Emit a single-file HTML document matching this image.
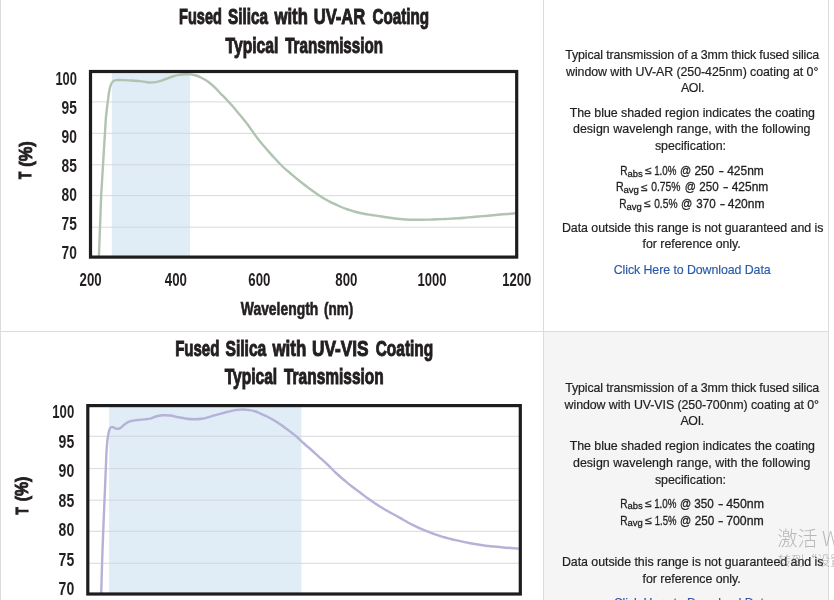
<!DOCTYPE html>
<html lang="en">
<head>
<meta charset="utf-8">
<title>Fused Silica Coating Transmission</title>
<style>
html,body{margin:0;padding:0;background:#fff;}
body{width:834px;height:600px;overflow:hidden;position:relative;font-family:"Liberation Sans","Noto Sans CJK SC",sans-serif;}
.ln{position:absolute;background:#dcdcdc;}
.cellbg{position:absolute;left:544px;top:332px;width:284px;height:268px;background:#f5f5f5;}
svg.ch{position:absolute;left:0;top:0;}
svg.ch text{font-family:"Liberation Sans",sans-serif;font-weight:bold;fill:#231f20;}
svg.ch text.r{font-weight:normal;fill:#1f1f1f;stroke:#1f1f1f;stroke-width:0.3px;}
.t{position:absolute;white-space:nowrap;font-size:12.4px;line-height:16px;height:16px;color:#1f1f1f;-webkit-text-stroke:0.2px #1f1f1f;}
.t sub{font-size:9.5px;vertical-align:baseline;position:relative;top:2.5px;line-height:0;}
.t a{color:#2a5aa8;text-decoration:none;-webkit-text-stroke:0.15px #2a5aa8;}
.wm{position:absolute;white-space:nowrap;color:rgba(110,110,110,0.45);font-family:"Noto Sans CJK SC","Liberation Sans",sans-serif;font-weight:300;}
</style>
</head>
<body>
<div class="cellbg"></div>
<div class="ln" style="left:0;top:0;width:1px;height:600px;"></div>
<div class="ln" style="left:543px;top:0;width:1px;height:600px;"></div>
<div class="ln" style="left:828px;top:0;width:1px;height:600px;"></div>
<div class="ln" style="left:0;top:331px;width:829px;height:1px;"></div>
<svg class="ch" width="834" height="600" viewBox="0 0 834 600">
<g id="c1">
<rect x="111.8" y="71.5" width="78.3" height="185.6" fill="#e0ecf6"/>
<g stroke="#d4d5d8" stroke-width="0.9">
<line x1="90.5" x2="516.7" y1="101.9" y2="101.9"/>
<line x1="90.5" x2="516.7" y1="133.3" y2="133.3"/>
<line x1="90.5" x2="516.7" y1="164.8" y2="164.8"/>
<line x1="90.5" x2="516.7" y1="195.6" y2="195.6"/>
<line x1="90.5" x2="516.7" y1="227.2" y2="227.2"/>
</g>
<path fill="none" stroke="#b1c3b1" stroke-width="2.4" stroke-linecap="butt" stroke-linejoin="round" d="M98.9,257.0 C99.1,252.1 99.6,237.8 100.0,227.5 C100.4,217.2 100.8,205.4 101.2,195.0 C101.8,184.6 102.4,175.4 103.0,165.0 C103.6,154.6 104.5,140.3 105.0,132.5 C105.5,124.7 105.5,122.9 105.9,118.0 C106.3,113.1 107.0,107.5 107.6,103.0 C108.2,98.5 108.7,94.3 109.2,91.3 C109.8,88.2 110.3,86.4 110.9,84.7 C111.5,83.0 112.1,82.1 113.0,81.3 C113.9,80.5 114.6,80.3 116.3,80.1 C118.0,79.9 120.5,80.0 123.0,80.1 C125.5,80.2 128.5,80.3 131.3,80.5 C134.1,80.7 137.4,80.8 140.0,81.1 C142.6,81.4 144.7,82.0 146.9,82.2 C149.1,82.4 151.0,82.5 153.0,82.4 C155.0,82.3 156.8,82.0 159.0,81.4 C161.2,80.8 163.6,79.8 165.9,79.0 C168.2,78.2 170.6,77.2 172.8,76.5 C175.0,75.8 176.7,75.3 178.9,74.9 C181.1,74.5 184.0,74.3 186.0,74.2 C188.0,74.2 189.3,74.2 191.0,74.4 C192.7,74.6 194.3,75.0 196.0,75.5 C197.7,76.0 199.3,76.7 201.0,77.5 C202.7,78.3 204.3,79.2 206.0,80.2 C207.7,81.3 209.3,82.6 211.0,84.0 C212.7,85.4 214.3,86.9 216.0,88.6 C217.7,90.3 219.7,92.6 221.0,94.0 C222.3,95.4 222.2,94.9 224.0,96.8 C225.8,98.7 229.3,102.5 232.0,105.5 C234.7,108.5 237.3,111.8 240.0,115.0 C242.7,118.2 245.7,121.9 248.0,125.0 C250.3,128.1 252.3,131.2 254.0,133.5 C255.7,135.8 256.0,136.5 258.0,139.0 C260.0,141.5 263.3,145.4 266.0,148.5 C268.7,151.6 271.3,154.6 274.0,157.5 C276.7,160.4 279.3,163.4 282.0,166.0 C284.7,168.6 287.3,170.7 290.0,173.0 C292.7,175.3 295.0,177.4 298.0,179.8 C301.0,182.2 305.0,185.3 308.0,187.5 C311.0,189.7 313.3,191.4 316.0,193.2 C318.7,195.0 321.3,196.9 324.0,198.5 C326.7,200.1 329.3,201.5 332.0,202.8 C334.7,204.1 337.3,205.4 340.0,206.5 C342.7,207.6 345.3,208.6 348.0,209.5 C350.7,210.4 353.3,211.3 356.0,212.0 C358.7,212.7 361.3,213.3 364.0,213.8 C366.7,214.3 369.3,214.6 372.0,215.0 C374.7,215.4 377.0,215.7 380.0,216.2 C383.0,216.7 386.7,217.3 390.0,217.8 C393.3,218.3 396.7,218.7 400.0,219.0 C403.3,219.3 406.7,219.6 410.0,219.7 C413.3,219.8 416.7,219.8 420.0,219.8 C423.3,219.8 426.3,219.7 430.0,219.6 C433.7,219.5 439.0,219.2 442.0,219.1 C445.0,219.0 445.3,219.0 448.0,218.9 C450.7,218.8 454.7,218.6 458.0,218.3 C461.3,218.1 464.7,217.7 468.0,217.4 C471.3,217.1 474.7,216.8 478.0,216.5 C481.3,216.2 484.7,216.0 488.0,215.7 C491.3,215.4 494.7,215.1 498.0,214.8 C501.3,214.5 505.1,214.2 508.0,214.0 C510.9,213.8 514.2,213.4 515.5,213.3"/>
<rect x="90.5" y="71.5" width="426.2" height="185.6" fill="none" stroke="#1d1d1d" stroke-width="3.2"/>
</g>
<text x="179.1" y="24.2" font-size="21.5" textLength="42.8" lengthAdjust="spacingAndGlyphs" stroke="#231f20" stroke-width="1">Fused</text>
<text x="228.1" y="24.2" font-size="21.5" textLength="39.9" lengthAdjust="spacingAndGlyphs" stroke="#231f20" stroke-width="1">Silica</text>
<text x="274.6" y="24.2" font-size="21.5" textLength="33.2" lengthAdjust="spacingAndGlyphs" stroke="#231f20" stroke-width="1">with</text>
<text x="313.7" y="24.2" font-size="21.5" textLength="51.6" lengthAdjust="spacingAndGlyphs" stroke="#231f20" stroke-width="1">UV-AR</text>
<text x="372.4" y="24.2" font-size="21.5" textLength="56.7" lengthAdjust="spacingAndGlyphs" stroke="#231f20" stroke-width="1">Coating</text>
<text x="225.6" y="52.5" font-size="21.5" textLength="52.8" lengthAdjust="spacingAndGlyphs" stroke="#231f20" stroke-width="1">Typical</text>
<text x="285.2" y="52.5" font-size="21.5" textLength="97.8" lengthAdjust="spacingAndGlyphs" stroke="#231f20" stroke-width="1">Transmission</text>
<text x="55.4" y="84.6" font-size="18" textLength="21.5" lengthAdjust="spacingAndGlyphs">100</text>
<text x="61.6" y="113.6" font-size="18" textLength="15.3" lengthAdjust="spacingAndGlyphs">95</text>
<text x="61.6" y="142.6" font-size="18" textLength="15.3" lengthAdjust="spacingAndGlyphs">90</text>
<text x="61.6" y="171.6" font-size="18" textLength="15.3" lengthAdjust="spacingAndGlyphs">85</text>
<text x="61.6" y="200.6" font-size="18" textLength="15.3" lengthAdjust="spacingAndGlyphs">80</text>
<text x="61.6" y="229.6" font-size="18" textLength="15.3" lengthAdjust="spacingAndGlyphs">75</text>
<text x="61.6" y="258.6" font-size="18" textLength="15.3" lengthAdjust="spacingAndGlyphs">70</text>
<text x="79.6" y="285.5" font-size="18" textLength="22.1" lengthAdjust="spacingAndGlyphs">200</text>
<text x="164.8" y="285.5" font-size="18" textLength="22.1" lengthAdjust="spacingAndGlyphs">400</text>
<text x="248.3" y="285.5" font-size="18" textLength="22.1" lengthAdjust="spacingAndGlyphs">600</text>
<text x="335.3" y="285.5" font-size="18" textLength="22.1" lengthAdjust="spacingAndGlyphs">800</text>
<text x="417.5" y="285.5" font-size="18" textLength="29.1" lengthAdjust="spacingAndGlyphs">1000</text>
<text x="502.3" y="285.5" font-size="18" textLength="29.1" lengthAdjust="spacingAndGlyphs">1200</text>
<text x="240.8" y="315.2" font-size="17.5" textLength="77.5" lengthAdjust="spacingAndGlyphs" stroke="#231f20" stroke-width="0.6">Wavelength</text>
<text x="324.0" y="315.2" font-size="17.5" textLength="29.2" lengthAdjust="spacingAndGlyphs" stroke="#231f20" stroke-width="0.6">(nm)</text>
<g transform="translate(31.8,179) rotate(-90)"><text x="-0.1" y="-0.6" font-size="16.5" textLength="7.2" lengthAdjust="spacingAndGlyphs" stroke="#231f20" stroke-width="1.2" stroke-linejoin="miter">T</text><text x="12.3" y="-0.3" font-size="17.6" textLength="25.5" lengthAdjust="spacingAndGlyphs" stroke="#231f20" stroke-width="0.9">(%)</text></g>
<g id="c2">
<rect x="109.1" y="405.6" width="192.3" height="188.4" fill="#e0ecf6"/>
<g stroke="#d4d5d8" stroke-width="0.9">
<line x1="87.8" x2="520.3" y1="436.3" y2="436.3"/>
<line x1="87.8" x2="520.3" y1="468.6" y2="468.6"/>
<line x1="87.8" x2="520.3" y1="500.2" y2="500.2"/>
<line x1="87.8" x2="520.3" y1="531.3" y2="531.3"/>
<line x1="87.8" x2="520.3" y1="563.3" y2="563.3"/>
</g>
<path fill="none" stroke="#b5b2d7" stroke-width="2.4" stroke-linecap="butt" stroke-linejoin="round" d="M101.2,594.0 C101.3,588.8 101.8,573.0 102.1,562.7 C102.4,552.4 102.8,542.5 103.2,532.0 C103.6,521.5 104.0,510.9 104.5,500.0 C105.0,489.1 105.6,475.0 105.9,466.7 C106.2,458.4 106.3,454.4 106.6,450.0 C106.8,445.6 107.1,443.5 107.4,440.6 C107.7,437.7 108.2,434.8 108.6,432.8 C109.0,430.8 109.3,429.5 109.9,428.5 C110.5,427.5 111.2,426.9 112.1,426.9 C113.0,426.9 114.1,428.0 115.1,428.3 C116.1,428.6 117.1,429.0 118.1,428.9 C119.1,428.8 119.9,428.4 121.1,427.5 C122.3,426.6 123.9,424.8 125.5,423.7 C127.1,422.6 128.6,421.8 130.6,421.2 C132.6,420.6 135.2,420.3 137.5,420.0 C139.8,419.7 142.4,419.6 144.5,419.4 C146.6,419.2 148.1,419.2 150.0,418.7 C151.9,418.2 153.7,417.1 155.8,416.5 C157.9,415.9 160.1,415.5 162.5,415.3 C164.9,415.1 167.4,415.2 170.1,415.5 C172.8,415.8 176.1,416.8 178.8,417.3 C181.5,417.8 183.9,418.4 186.5,418.7 C189.1,419.0 191.5,419.2 194.1,419.2 C196.7,419.2 199.2,419.1 201.8,418.7 C204.4,418.3 206.9,417.5 209.5,416.8 C212.1,416.1 214.5,415.3 217.1,414.6 C219.7,413.9 222.4,413.2 225.0,412.5 C227.6,411.8 230.1,411.1 232.7,410.6 C235.2,410.1 237.8,409.7 240.3,409.6 C242.9,409.5 245.4,409.6 248.0,409.9 C250.6,410.2 253.7,410.9 255.7,411.5 C257.7,412.1 257.9,412.4 260.0,413.3 C262.1,414.2 265.3,415.6 268.0,417.0 C270.7,418.4 273.3,419.8 276.0,421.5 C278.7,423.2 281.3,425.1 284.0,427.0 C286.7,428.9 289.8,431.3 292.0,433.0 C294.2,434.7 295.0,435.2 297.0,437.0 C299.0,438.8 301.5,441.2 304.0,443.5 C306.5,445.8 309.3,448.1 312.0,450.5 C314.7,452.9 317.3,455.4 320.0,457.8 C322.7,460.2 325.3,462.5 328.0,465.0 C330.7,467.5 333.3,470.5 336.0,473.0 C338.7,475.5 341.3,477.8 344.0,480.0 C346.7,482.2 349.3,484.4 352.0,486.5 C354.7,488.6 357.3,490.5 360.0,492.5 C362.7,494.5 365.3,496.6 368.0,498.5 C370.7,500.4 373.3,502.2 376.0,504.0 C378.7,505.8 381.3,507.4 384.0,509.0 C386.7,510.6 389.3,512.0 392.0,513.5 C394.7,515.0 396.6,516.0 400.0,517.9 C403.4,519.8 408.1,522.7 412.5,524.9 C416.9,527.1 421.8,529.3 426.5,531.2 C431.2,533.1 435.8,534.8 440.5,536.2 C445.2,537.7 449.7,538.7 454.6,539.9 C459.5,541.1 464.9,542.3 470.1,543.3 C475.3,544.3 480.5,545.1 485.7,545.7 C490.9,546.4 495.8,546.7 501.3,547.2 C506.8,547.7 515.9,548.4 518.8,548.6"/>
<rect x="87.8" y="405.6" width="432.5" height="188.4" fill="none" stroke="#1d1d1d" stroke-width="3.2"/>
</g>
<text x="175.2" y="356.0" font-size="21.8" textLength="44.1" lengthAdjust="spacingAndGlyphs" stroke="#231f20" stroke-width="1">Fused</text>
<text x="225.5" y="356.0" font-size="21.8" textLength="40.8" lengthAdjust="spacingAndGlyphs" stroke="#231f20" stroke-width="1">Silica</text>
<text x="272.5" y="356.0" font-size="21.8" textLength="33.7" lengthAdjust="spacingAndGlyphs" stroke="#231f20" stroke-width="1">with</text>
<text x="311.9" y="356.0" font-size="21.8" textLength="56.7" lengthAdjust="spacingAndGlyphs" stroke="#231f20" stroke-width="1">UV-VIS</text>
<text x="375.7" y="356.0" font-size="21.8" textLength="57.5" lengthAdjust="spacingAndGlyphs" stroke="#231f20" stroke-width="1">Coating</text>
<text x="224.7" y="384.3" font-size="21.8" textLength="52.5" lengthAdjust="spacingAndGlyphs" stroke="#231f20" stroke-width="1">Typical</text>
<text x="284.0" y="384.3" font-size="21.8" textLength="99.7" lengthAdjust="spacingAndGlyphs" stroke="#231f20" stroke-width="1">Transmission</text>
<text x="52.3" y="418.0" font-size="18.4" textLength="21.9" lengthAdjust="spacingAndGlyphs">100</text>
<text x="58.6" y="447.6" font-size="18.4" textLength="15.6" lengthAdjust="spacingAndGlyphs">95</text>
<text x="58.6" y="477.1" font-size="18.4" textLength="15.6" lengthAdjust="spacingAndGlyphs">90</text>
<text x="58.6" y="506.6" font-size="18.4" textLength="15.6" lengthAdjust="spacingAndGlyphs">85</text>
<text x="58.6" y="536.2" font-size="18.4" textLength="15.6" lengthAdjust="spacingAndGlyphs">80</text>
<text x="58.6" y="565.8" font-size="18.4" textLength="15.6" lengthAdjust="spacingAndGlyphs">75</text>
<text x="58.6" y="595.3" font-size="18.4" textLength="15.6" lengthAdjust="spacingAndGlyphs">70</text>
<g transform="translate(28.5,514.5) rotate(-90)"><text x="-0.1" y="-0.6" font-size="16.9" textLength="7.2" lengthAdjust="spacingAndGlyphs" stroke="#231f20" stroke-width="1.2" stroke-linejoin="miter">T</text><text x="13.2" y="-0.3" font-size="18" textLength="24.7" lengthAdjust="spacingAndGlyphs" stroke="#231f20" stroke-width="0.9">(%)</text></g>
<text class="r" x="620.3" y="175.0" font-size="12.4" textLength="7.3" lengthAdjust="spacingAndGlyphs">R</text>
<text class="r" x="627.5" y="176.5" font-size="9.6" textLength="15.2" lengthAdjust="spacingAndGlyphs">abs</text>
<text class="r" x="645.2" y="174.4" font-size="10.5" textLength="6.5" lengthAdjust="spacingAndGlyphs">≤</text>
<text class="r" x="654.2" y="175.0" font-size="12.4" textLength="22.2" lengthAdjust="spacingAndGlyphs">1.0%</text>
<text class="r" x="679.9" y="175.0" font-size="12.4" textLength="11.2" lengthAdjust="spacingAndGlyphs">@</text>
<text class="r" x="694.4" y="175.0" font-size="12.4" textLength="19.8" lengthAdjust="spacingAndGlyphs">250</text>
<text class="r" x="718.6" y="175.0" font-size="12.4" textLength="5.5" lengthAdjust="spacingAndGlyphs">-</text>
<text class="r" x="727.2" y="175.0" font-size="12.4" textLength="36.6" lengthAdjust="spacingAndGlyphs">425nm</text>
<text class="r" x="615.9" y="191.2" font-size="12.4" textLength="7.7" lengthAdjust="spacingAndGlyphs">R</text>
<text class="r" x="623.5" y="192.7" font-size="9.6" textLength="15.4" lengthAdjust="spacingAndGlyphs">avg</text>
<text class="r" x="641.2" y="190.6" font-size="10.5" textLength="6.4" lengthAdjust="spacingAndGlyphs">≤</text>
<text class="r" x="651.2" y="191.2" font-size="12.4" textLength="29.3" lengthAdjust="spacingAndGlyphs">0.75%</text>
<text class="r" x="684.8" y="191.2" font-size="12.4" textLength="11.2" lengthAdjust="spacingAndGlyphs">@</text>
<text class="r" x="699.3" y="191.2" font-size="12.4" textLength="19.4" lengthAdjust="spacingAndGlyphs">250</text>
<text class="r" x="723.1" y="191.2" font-size="12.4" textLength="5.5" lengthAdjust="spacingAndGlyphs">-</text>
<text class="r" x="731.7" y="191.2" font-size="12.4" textLength="36.6" lengthAdjust="spacingAndGlyphs">425nm</text>
<text class="r" x="619.3" y="208.0" font-size="12.4" textLength="7.3" lengthAdjust="spacingAndGlyphs">R</text>
<text class="r" x="626.5" y="209.5" font-size="9.6" textLength="15.2" lengthAdjust="spacingAndGlyphs">avg</text>
<text class="r" x="644.2" y="207.4" font-size="10.5" textLength="6.5" lengthAdjust="spacingAndGlyphs">≤</text>
<text class="r" x="654.2" y="208.0" font-size="12.4" textLength="23.3" lengthAdjust="spacingAndGlyphs">0.5%</text>
<text class="r" x="681.1" y="208.0" font-size="12.4" textLength="11.3" lengthAdjust="spacingAndGlyphs">@</text>
<text class="r" x="696.3" y="208.0" font-size="12.4" textLength="19.4" lengthAdjust="spacingAndGlyphs">370</text>
<text class="r" x="719.8" y="208.0" font-size="12.4" textLength="5.5" lengthAdjust="spacingAndGlyphs">-</text>
<text class="r" x="727.7" y="208.0" font-size="12.4" textLength="36.8" lengthAdjust="spacingAndGlyphs">420nm</text>
<text class="r" x="620.3" y="507.6" font-size="12.4" textLength="7.3" lengthAdjust="spacingAndGlyphs">R</text>
<text class="r" x="627.5" y="509.1" font-size="9.6" textLength="15.2" lengthAdjust="spacingAndGlyphs">abs</text>
<text class="r" x="645.2" y="507.0" font-size="10.5" textLength="6.5" lengthAdjust="spacingAndGlyphs">≤</text>
<text class="r" x="654.2" y="507.6" font-size="12.4" textLength="22.2" lengthAdjust="spacingAndGlyphs">1.0%</text>
<text class="r" x="679.9" y="507.6" font-size="12.4" textLength="11.2" lengthAdjust="spacingAndGlyphs">@</text>
<text class="r" x="694.2" y="507.6" font-size="12.4" textLength="19.5" lengthAdjust="spacingAndGlyphs">350</text>
<text class="r" x="718.1" y="507.6" font-size="12.4" textLength="5.5" lengthAdjust="spacingAndGlyphs">-</text>
<text class="r" x="726.2" y="507.6" font-size="12.4" textLength="37.8" lengthAdjust="spacingAndGlyphs">450nm</text>
<text class="r" x="620.3" y="524.7" font-size="12.4" textLength="7.3" lengthAdjust="spacingAndGlyphs">R</text>
<text class="r" x="627.5" y="526.2" font-size="9.6" textLength="15.2" lengthAdjust="spacingAndGlyphs">avg</text>
<text class="r" x="645.2" y="524.1" font-size="10.5" textLength="6.7" lengthAdjust="spacingAndGlyphs">≤</text>
<text class="r" x="654.7" y="524.7" font-size="12.4" textLength="21.7" lengthAdjust="spacingAndGlyphs">1.5%</text>
<text class="r" x="679.9" y="524.7" font-size="12.4" textLength="11.2" lengthAdjust="spacingAndGlyphs">@</text>
<text class="r" x="694.7" y="524.7" font-size="12.4" textLength="19.5" lengthAdjust="spacingAndGlyphs">250</text>
<text class="r" x="718.1" y="524.7" font-size="12.4" textLength="5.5" lengthAdjust="spacingAndGlyphs">-</text>
<text class="r" x="726.2" y="524.7" font-size="12.4" textLength="37.6" lengthAdjust="spacingAndGlyphs">700nm</text>
</svg>
<div class="t" style="left:565.3px;top:47.40px;letter-spacing:-0.137px">Typical transmission of a 3mm thick fused silica</div>
<div class="t" style="left:566.0px;top:64.00px;letter-spacing:-0.062px">window with UV-AR (250-425nm) coating at 0°</div>
<div class="t" style="left:681.0px;top:80.00px;letter-spacing:-0.474px">AOI.</div>
<div class="t" style="left:569.7px;top:105.40px;letter-spacing:-0.030px">The blue shaded region indicates the coating</div>
<div class="t" style="left:573.0px;top:121.40px;letter-spacing:0.046px">design wavelengh range, with the following</div>
<div class="t" style="left:654.9px;top:137.80px;letter-spacing:-0.039px">specification:</div>
<div class="t" style="left:561.9px;top:220.00px;letter-spacing:-0.034px">Data outside this range is not guaranteed and is</div>
<div class="t" style="left:642.6px;top:236.40px;letter-spacing:-0.045px">for reference only.</div>
<div class="t" style="left:613.7px;top:261.80px;letter-spacing:-0.081px"><a href="#">Click Here to Download Data</a></div>
<div class="t" style="left:565.3px;top:380.00px;letter-spacing:-0.137px">Typical transmission of a 3mm thick fused silica</div>
<div class="t" style="left:564.6px;top:396.80px;letter-spacing:-0.075px">window with UV-VIS (250-700nm) coating at 0°</div>
<div class="t" style="left:680.4px;top:413.40px;letter-spacing:-0.324px">AOI.</div>
<div class="t" style="left:569.7px;top:438.40px;letter-spacing:-0.030px">The blue shaded region indicates the coating</div>
<div class="t" style="left:573.0px;top:454.80px;letter-spacing:0.046px">design wavelengh range, with the following</div>
<div class="t" style="left:654.9px;top:471.80px;letter-spacing:-0.039px">specification:</div>
<div class="t" style="left:561.9px;top:554.00px;letter-spacing:-0.034px">Data outside this range is not guaranteed and is</div>
<div class="t" style="left:642.6px;top:571.00px;letter-spacing:-0.045px">for reference only.</div>
<div class="t" style="left:613.7px;top:595.40px;letter-spacing:-0.081px"><a href="#">Click Here to Download Data</a></div>
<div class="wm" style="left:777.5px;top:524px;font-size:20px;line-height:28px;">激活 Windows</div>
<div class="wm" style="left:778px;top:550px;font-size:13px;line-height:20px;color:rgba(105,105,105,0.55);">转到<span style="display:inline-block;width:13px;text-align:right;">“</span>设置<span style="display:inline-block;width:13px;text-align:left;">”</span>以激活 Windows。</div>
</body>
</html>
